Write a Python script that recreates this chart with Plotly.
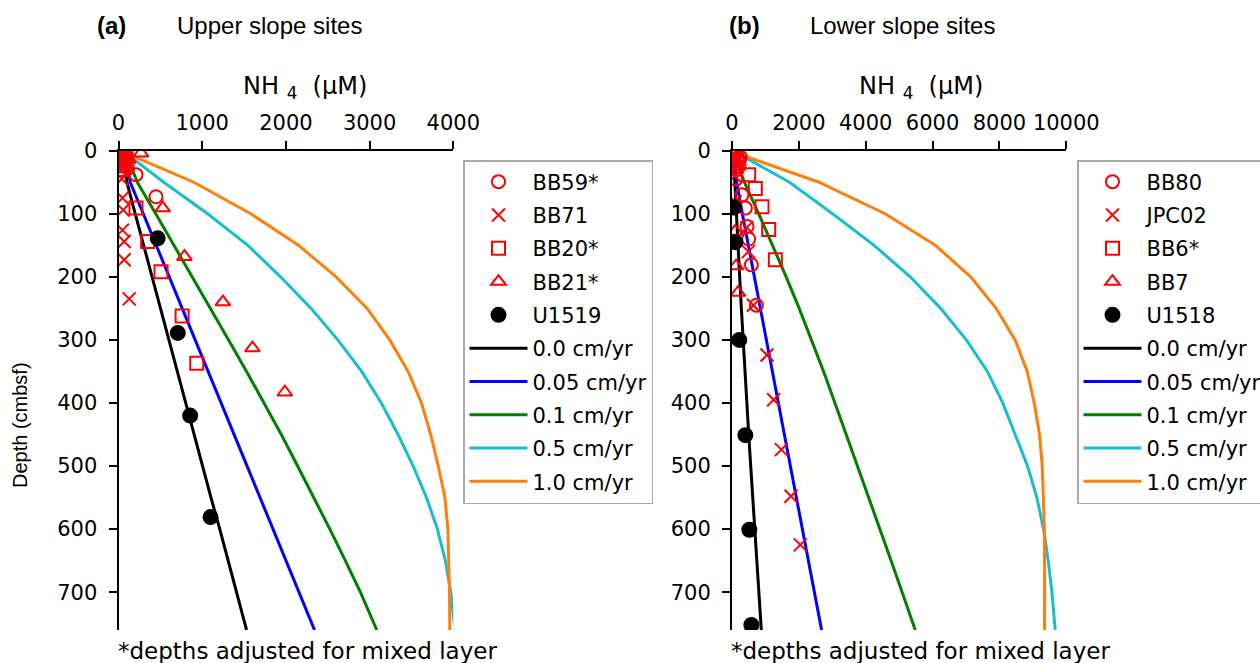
import plotly.graph_objects as go

W, H = 1260, 663

# ---------------- common model depth grid (cmbsf) ----------------
model_depth = [5, 50, 100, 150, 200, 250, 300, 350, 400, 450, 500, 550, 600, 650, 700, 760]
rates = ["0.0 cm/yr", "0.05 cm/yr", "0.1 cm/yr", "0.5 cm/yr", "1.0 cm/yr"]
rate_colors = ["#000000", "#0000ff", "#008000", "#17becf", "#ff7f0e"]

# ---------------- panel (a) upper slope ----------------
a_model = [
    [60, 100, 200, 300, 400, 500, 600, 700, 805, 905, 1005, 1105, 1210, 1310, 1410, 1530],
    [90, 140, 296, 451, 606, 761, 916, 1071, 1226, 1381, 1536, 1691, 1846, 2001, 2156, 2342],
    [90, 225, 445, 665, 885, 1100, 1315, 1530, 1740, 1945, 2140, 2335, 2525, 2710, 2890, 3086],
    [100, 540, 1065, 1545, 1935, 2300, 2620, 2905, 3140, 3340, 3520, 3680, 3810, 3905, 3970, 4020],
    [110, 900, 1580, 2150, 2600, 2970, 3240, 3460, 3620, 3730, 3820, 3900, 3935, 3948, 3955, 3958],
]
a_names = ["BB59*", "BB71", "BB20*", "BB21*", "U1519"]
a_depth = [
    [2, 6, 10, 15, 22, 28, 38, 73],
    [3, 8, 12, 20, 26, 30, 45, 75, 94, 126, 144, 173, 235],
    [3, 10, 15, 24, 30, 91, 144, 192, 262, 337],
    [4, 8, 14, 91, 168, 240, 313, 383],
    [139, 289, 420, 581],
]
a_nh4 = [
    [60, 30, 90, 80, 50, 110, 209, 448],
    [20, 30, 50, 40, 70, 30, 40, 48, 56, 48, 68, 68, 128],
    [40, 90, 70, 40, 50, 209, 348, 508, 760, 935],
    [269, 60, 120, 528, 788, 1247, 1600, 1987],
    [468, 708, 856, 1100],
]

# ---------------- panel (b) lower slope ----------------
b_model = [
    [40, 80, 130, 180, 230, 280, 330, 385, 440, 500, 560, 620, 680, 740, 800, 877],
    [50, 140, 310, 490, 670, 850, 1030, 1210, 1390, 1570, 1750, 1930, 2110, 2290, 2470, 2680],
    [60, 370, 800, 1220, 1620, 2010, 2380, 2740, 3080, 3420, 3760, 4100, 4430, 4760, 5090, 5482],
    [200, 1720, 3010, 4250, 5330, 6240, 7010, 7640, 8100, 8470, 8840, 9120, 9320, 9460, 9570, 9668],
    [200, 2600, 4580, 6080, 7140, 7900, 8470, 8830, 9040, 9200, 9280, 9320, 9345, 9350, 9350, 9350],
]
b_names = ["BB80", "JPC02", "BB6*", "BB7", "U1518"]
b_depth = [
    [3, 10, 15, 30, 45, 70, 91, 120, 140, 181, 245],
    [5, 10, 25, 40, 81, 122, 160, 245, 324, 395, 474, 548, 625],
    [5, 10, 20, 38, 60, 89, 125, 173],
    [3, 12, 20, 128, 183, 225],
    [90, 145, 300, 451, 601, 752],
]
b_nh4 = [
    [100, 250, 200, 150, 120, 299, 399, 449, 498, 579, 728],
    [60, 100, 150, 80, 90, 440, 490, 640, 1047, 1246, 1475, 1765, 2043],
    [60, 150, 200, 498, 697, 897, 1097, 1296],
    [80, 200, 60, 100, 120, 180],
    [60, 100, 219, 399, 519, 579],
]

a_xticks = [0, 1000, 2000, 3000, 4000]
b_xticks = [0, 2000, 4000, 6000, 8000, 10000]
y_ticks = [0, 100, 200, 300, 400, 500, 600, 700]

symbols = ["circle-open", "x-thin-open", "square-open", "triangle-up-open", "circle"]
mcolors = ["#ff0000", "#ff0000", "#ff0000", "#ff0000", "#000000"]
msizes = [13, 13, 13, 13, 14]

fig = go.Figure()


def add_panel(xa, ya, leg, model, names, depth, nh4, tag):
    for i, (r, c) in enumerate(zip(rates, rate_colors)):
        fig.add_trace(go.Scatter(
            x=model[i], y=model_depth, mode="lines", name=r,
            line=dict(color=c, width=3), xaxis=xa, yaxis=ya,
            legend=leg, legendrank=10 + i, legendgroup=f"{tag}l{i}"))
    for i, n in enumerate(names):
        fig.add_trace(go.Scatter(
            x=nh4[i], y=depth[i], mode="markers", name=n,
            marker=dict(symbol=symbols[i], size=msizes[i], color=mcolors[i],
                        line=dict(color=mcolors[i], width=2)),
            xaxis=xa, yaxis=ya, legend=leg, legendrank=1 + i,
            legendgroup=f"{tag}m{i}"))


add_panel("x", "y", "legend", a_model, a_names, a_depth, a_nh4, "a")
add_panel("x2", "y2", "legend2", b_model, b_names, b_depth, b_nh4, "b")

tickfont = dict(family="DejaVu Sans", size=21, color="black")
ydom = [(H - 630) / H, (H - 150.7) / H]

xcommon = dict(side="top", showline=True, linecolor="black", linewidth=2,
               ticks="outside", ticklen=8, tickwidth=2, tickcolor="black",
               showgrid=False, zeroline=False, tickfont=tickfont,
               ticklabelstandoff=2)
ycommon = dict(showline=True, linecolor="black", linewidth=2, range=[760, 0],
               ticks="outside", ticklen=8, tickwidth=2, tickcolor="black",
               showgrid=False, zeroline=False, tickfont=tickfont,
               tickvals=y_ticks, ticklabelstandoff=7)

legcommon = dict(font=dict(family="DejaVu Sans", size=21, color="black"),
                 bordercolor="#aaaaaa", borderwidth=1.5, bgcolor="white",
                 xanchor="left", yanchor="top", itemwidth=58,
                 traceorder="grouped", tracegroupgap=3)

fig.update_layout(
    width=W, height=H, margin=dict(l=0, r=0, t=0, b=0, autoexpand=False),
    paper_bgcolor="white", plot_bgcolor="white",
    xaxis=dict(domain=[118.5 / W, 453.3 / W], range=[0, 4000], tickvals=a_xticks,
               ticktext=[str(v) for v in a_xticks], anchor="y", **xcommon),
    yaxis=dict(domain=ydom, anchor="x", **ycommon),
    xaxis2=dict(domain=[732 / W, 1066.3 / W], range=[0, 10000], tickvals=b_xticks,
                ticktext=[str(v) for v in b_xticks], anchor="y2", **xcommon),
    yaxis2=dict(domain=ydom, anchor="x2", **ycommon),
    legend=dict(x=463 / W, y=1 - 160 / H, **legcommon),
    legend2=dict(x=1077 / W, y=1 - 160 / H, **legcommon),
    showlegend=True,
)

title_font = dict(family="Liberation Sans", size=24, color="black")
lab_font = dict(family="DejaVu Sans", size=24, color="black")
note_font = dict(family="DejaVu Sans", size=23, color="black")


def ann(text, x, y, font, xanchor="center", yanchor="middle", angle=0):
    fig.add_annotation(text=text, x=x / W, y=1 - y / H, xref="paper", yref="paper",
                       showarrow=False, font=font, xanchor=xanchor, yanchor=yanchor,
                       textangle=angle)


ann("<b>(a)</b>", 111, 26, title_font)
ann("Upper slope sites", 175, 26, title_font, xanchor="left")
ann("<b>(b)</b>", 744, 26, title_font)
ann("Lower slope sites", 808, 26, title_font, xanchor="left")
ann("NH\u00a0<sub>4</sub>\u00a0\u00a0(µM)", 305, 88, lab_font)
ann("NH\u00a0<sub>4</sub>\u00a0\u00a0(µM)", 921, 88, lab_font)
ann("Depth (cmbsf)", 20, 425, dict(family="Liberation Sans", size=20, color="black"), angle=-90)
ann("*depths adjusted for mixed layer", 116, 651, note_font, xanchor="left")
ann("*depths adjusted for mixed layer", 729, 651, note_font, xanchor="left")

fig.write_html("out.html")
